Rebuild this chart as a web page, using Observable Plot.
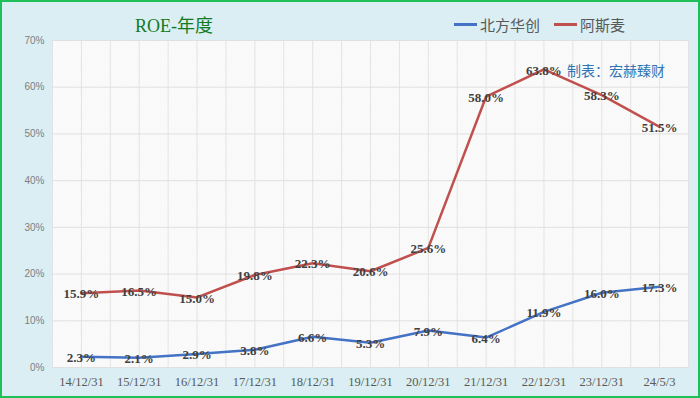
<!DOCTYPE html>
<html><head><meta charset="utf-8">
<script src="https://cdn.jsdelivr.net/npm/d3@7"></script>
<script src="https://cdn.jsdelivr.net/npm/@observablehq/plot@0.6"></script>
<style>
html,body{margin:0;padding:0;background:#fff;}
#wrap{position:relative;width:700px;height:398px;background:#daeef3;overflow:hidden;}
#border{position:absolute;left:0;top:0;width:700px;height:398px;box-sizing:border-box;border:2px solid #1fbf5a;pointer-events:none;}
.t{position:absolute;white-space:nowrap;}
</style></head>
<body>
<div id="wrap">
  <div id="chart"></div>
  <div class="t" style="left:135px;top:11px;font:18px 'Liberation Serif','Noto Sans CJK SC',serif;color:#137a22;">ROE-年度</div>
  <div class="t" id="legend" style="left:454px;top:14px;font:15px 'Noto Sans CJK SC',sans-serif;color:#595959;display:flex;align-items:center;"></div>
  <div class="t" style="left:567px;top:60px;font:14px 'Noto Sans CJK SC',sans-serif;color:#2e75b6;">制表：宏赫臻财</div>
  <div id="border"></div>
</div>
<script>
const categories = ["14/12/31","15/12/31","16/12/31","17/12/31","18/12/31","19/12/31","20/12/31","21/12/31","22/12/31","23/12/31","24/5/3"];
const naura = [2.3,2.1,2.9,3.8,6.6,5.3,7.9,6.4,11.9,16.0,17.3];
const asml = [15.9,16.5,15.0,19.8,22.3,20.6,25.6,58.0,63.8,58.3,51.5];
const seriesNames = ["北方华创","阿斯麦"];
const seriesColors = ["#4472c4","#c0504d"];
const yTicks = [0,10,20,30,40,50,60,70];

const rows = [];
categories.forEach((c,i)=>{
  rows.push({i, cat:c, s:seriesNames[0], v:naura[i]});
  rows.push({i, cat:c, s:seriesNames[1], v:asml[i]});
});
const idx = categories.map((c,i)=>i);
const halfGrid = d3.range(-0.5, categories.length, 0.5);

const plot = Plot.plot({
  width:700, height:398,
  marginLeft:52, marginRight:12, marginTop:40, marginBottom:31,
  style:{background:"transparent", overflow:"visible"},
  x:{type:"linear", domain:[-0.5, categories.length-0.5], axis:null, label:null},
  y:{domain:[0,70], axis:null, label:null},
  color:{domain:seriesNames, range:seriesColors},
  marks:[
    Plot.frame({fill:"url(#hatch)", stroke:null}),
    Plot.ruleX(halfGrid, {x:d=>d, stroke:"#e3e3e3", strokeWidth:1}),
    Plot.ruleY(yTicks, {y:d=>d, stroke:"#e0e0e0", strokeWidth:1}),
    Plot.axisY(yTicks, {tickSize:0, tickPadding:8, tickFormat:d=>d+"%", fontSize:10, fill:"#7f7f7f", fontFamily:"'Liberation Sans',sans-serif", label:null}),
    Plot.axisX(idx, {tickSize:0, tickPadding:10, tickFormat:i=>categories[i], fontSize:12.5, fill:"#595959", fontFamily:"'Liberation Serif',serif", label:null}),
    Plot.line(rows, {x:"i", y:"v", z:"s", stroke:"s", strokeWidth:2.5}),
    Plot.text(rows, {x:"i", y:"v", text:d=>d.v.toFixed(1)+"%", fontSize:13, fontWeight:"bold", fill:"#404040", fontFamily:"'Liberation Serif',serif", dy:1})
  ]
});
const svg = d3.select(plot);
const defs = svg.insert("defs",":first-child");
const pat = defs.append("pattern").attr("id","hatch").attr("patternUnits","userSpaceOnUse").attr("width",3).attr("height",3);
pat.append("rect").attr("width",3).attr("height",3).attr("fill","#ffffff");
pat.append("path").attr("d","M-1,-1 L4,4 M-1,2 L1,4 M2,-1 L4,1").attr("stroke","#e8e8e8").attr("stroke-width",0.8);
document.getElementById("chart").appendChild(plot);

const lg = document.getElementById("legend");
seriesNames.forEach((n,k)=>{
  const sw = document.createElement("span");
  sw.style.cssText = `display:inline-block;width:23px;height:3px;background:${seriesColors[k]};margin-right:3px;`;
  const tx = document.createElement("span");
  tx.textContent = n;
  tx.style.marginRight = k===0 ? "14px" : "0";
  lg.appendChild(sw); lg.appendChild(tx);
});
</script>
</body></html>
